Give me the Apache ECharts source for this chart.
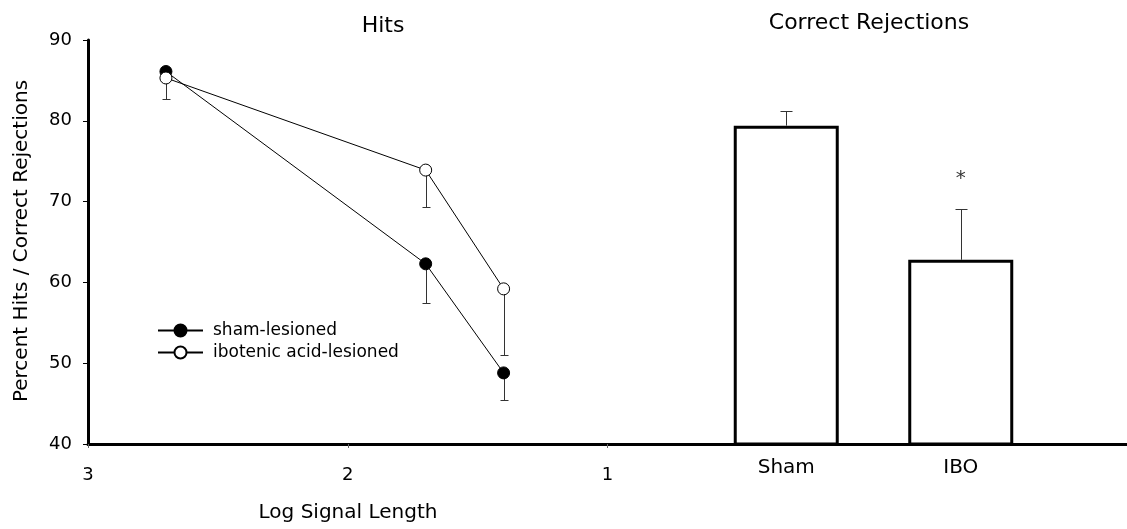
<!DOCTYPE html>
<html>
<head>
<meta charset="utf-8">
<script src="https://cdn.jsdelivr.net/npm/echarts@6/dist/echarts.min.js"></script>
<style>
html,body{margin:0;padding:0;background:#fff;}
#chart{width:1127px;height:529px;}
</style>
</head>
<body>
<div id="chart"></div>
<script>
// ---- data ----
const logSignalLength = [2.7, 1.7, 1.4];
const shamHits = [86.1, 62.3, 48.8];
const shamHitsErr = [0, 4.9, 3.4];
const iboHits = [85.3, 73.9, 59.2];
const iboHitsErr = [2.6, 4.6, 8.2];
const groups = ['Sham', 'IBO'];
const correctRejections = [79.4, 62.8];
const correctRejectionsErr = [1.8, 6.3];
const significance = [{group: 'IBO', y: 72.8, text: '*'}];
const xTickValues = [3, 2, 1];
const seriesNames = ['sham-lesioned', 'ibotenic acid-lesioned'];

const FONT = 'DejaVu Sans';
const chart = echarts.init(document.getElementById('chart'));

function errDown(x, mean, err) { return [x, mean, mean - err]; }

const shamErrData = logSignalLength.map((x, i) => errDown(x, shamHits[i], shamHitsErr[i])).filter(d => d[1] !== d[2]);
const iboErrData = logSignalLength.map((x, i) => errDown(x, iboHits[i], iboHitsErr[i])).filter(d => d[1] !== d[2]);
const barErrData = groups.map((g, i) => [i, correctRejections[i], correctRejections[i] + correctRejectionsErr[i]]);

function errRender(capHalf) {
  return function (params, api) {
    const x = api.value(0), a = api.value(1), b = api.value(2);
    const p1 = api.coord([x, a]);
    const p2 = api.coord([x, b]);
    const cx = Math.round(p1[0]) + 0.5;
    const y2 = Math.round(p2[1]) + 0.5;
    const st = {stroke: '#333', lineWidth: 1};
    return {
      type: 'group',
      children: [
        {type: 'line', shape: {x1: cx, y1: p1[1], x2: cx, y2: y2}, style: st},
        {type: 'line', shape: {x1: cx - capHalf, y1: y2, x2: cx + capHalf, y2: y2}, style: st}
      ]
    };
  };
}

const option = {
  backgroundColor: '#fff',
  animation: false,
  textStyle: {fontFamily: FONT, color: '#000'},
  grid: [
    {left: 88, right: 0, top: 40, bottom: 85, containLabel: false},
    {left: 699, width: 349, top: 40, bottom: 85, containLabel: false}
  ],
  xAxis: [
    {
      type: 'value', gridIndex: 0, min: -1, max: 3, interval: 1, inverse: true,
      axisLine: {onZero: false, lineStyle: {color: '#000', width: 3}},
      axisTick: {show: true, length: 4, inside: false, lineStyle: {color: '#666', width: 1}, customValues: xTickValues},
      axisLabel: {fontSize: 18, color: '#000', margin: 22, fontFamily: FONT, customValues: xTickValues},
      splitLine: {show: false}
    },
    {
      type: 'category', gridIndex: 1, data: groups, boundaryGap: true,
      axisLine: {show: false, onZero: false}, axisTick: {show: false},
      axisLabel: {fontSize: 20, color: '#000', margin: 14, fontFamily: FONT},
      splitLine: {show: false}
    }
  ],
  yAxis: [
    {
      type: 'value', gridIndex: 0, min: 40, max: 90, interval: 10,
      axisLine: {show: true, onZero: false, lineStyle: {color: '#000', width: 3}},
      axisTick: {show: true, length: 5, lineStyle: {color: '#000', width: 1}},
      axisLabel: {fontSize: 18, color: '#000', margin: 16, fontFamily: FONT},
      splitLine: {show: false}
    },
    {
      type: 'value', gridIndex: 1, min: 40, max: 90, interval: 10, show: false,
      axisLine: {show: false, onZero: false}, axisTick: {show: false}, axisLabel: {show: false},
      splitLine: {show: false}
    }
  ],
  legend: {
    left: 152, top: 317, orient: 'vertical', itemWidth: 45, itemHeight: 15, itemGap: 5,
    data: seriesNames,
    textStyle: {fontSize: 17, fontFamily: FONT, color: '#000', padding: [0, 0, 0, 5]},
    inactiveColor: '#000'
  },
  graphic: [
    {type: 'text', x: 383, y: 26, style: {text: 'Hits', font: '22px "DejaVu Sans"', fill: '#000', textAlign: 'center', textVerticalAlign: 'middle'}},
    {type: 'text', x: 869, y: 23, style: {text: 'Correct Rejections', font: '22px "DejaVu Sans"', fill: '#000', textAlign: 'center', textVerticalAlign: 'middle'}},
    {type: 'text', x: 348, y: 513, style: {text: 'Log Signal Length', font: '20px "DejaVu Sans"', fill: '#000', textAlign: 'center', textVerticalAlign: 'middle'}},
    {type: 'text', x: 22, y: 241, rotation: Math.PI / 2, style: {text: 'Percent Hits / Correct Rejections', font: '20px "DejaVu Sans"', fill: '#000', textAlign: 'center', textVerticalAlign: 'middle'}}
  ],
  series: [
    {
      type: 'custom', xAxisIndex: 0, yAxisIndex: 0, data: shamErrData,
      encode: {x: 0, y: [1, 2]}, renderItem: errRender(4), z: 1, silent: true
    },
    {
      type: 'custom', xAxisIndex: 0, yAxisIndex: 0, data: iboErrData,
      encode: {x: 0, y: [1, 2]}, renderItem: errRender(4), z: 1, silent: true
    },
    {
      name: seriesNames[0], type: 'line', xAxisIndex: 0, yAxisIndex: 0,
      data: logSignalLength.map((x, i) => [x, shamHits[i]]),
      symbol: 'circle', symbolSize: 12, showAllSymbol: true,
      lineStyle: {color: '#000', width: 1},
      itemStyle: {color: '#000', borderColor: '#000', borderWidth: 1},
      z: 3
    },
    {
      name: seriesNames[1], type: 'line', xAxisIndex: 0, yAxisIndex: 0,
      data: logSignalLength.map((x, i) => [x, iboHits[i]]),
      symbol: 'circle', symbolSize: 12, showAllSymbol: true,
      lineStyle: {color: '#000', width: 1},
      itemStyle: {color: '#fff', borderColor: '#000', borderWidth: 1},
      z: 4
    },
    {
      type: 'bar', xAxisIndex: 1, yAxisIndex: 1, data: correctRejections,
      barWidth: 105,
      itemStyle: {color: '#fff', borderColor: '#000', borderWidth: 3},
      z: 2, silent: true
    },
    {
      type: 'custom', xAxisIndex: 1, yAxisIndex: 1, data: barErrData,
      encode: {x: 0, y: [1, 2]}, renderItem: errRender(6), z: 3, silent: true
    },
    {
      type: 'scatter', xAxisIndex: 1, yAxisIndex: 1,
      data: significance.map(s => [s.group, s.y, s.text]),
      symbolSize: 1, itemStyle: {color: 'rgba(0,0,0,0)'},
      label: {show: true, position: 'inside', formatter: p => p.value[2], fontSize: 20, color: '#000', fontFamily: FONT},
      silent: true
    }
  ]
};
chart.setOption(option);
</script>
</body>
</html>
